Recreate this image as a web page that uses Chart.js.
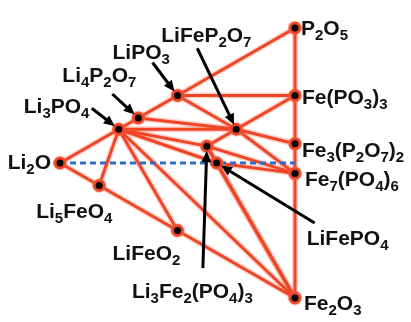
<!DOCTYPE html>
<html>
<head>
<meta charset="utf-8">
<script src="https://cdn.jsdelivr.net/npm/chart.js@4"></script>
<style>
  html, body { margin: 0; padding: 0; background: #fff; }
  #wrap { width: 411px; height: 322px; }
</style>
</head>
<body>
<div id="wrap"><canvas id="myChart"></canvas></div>
<script>
// phases of the Li2O - Fe2O3 - P2O5 diagram, given by cation counts
let phases = ['Li2O', 'Li5FeO4', 'LiFeO2', 'Fe2O3', 'Fe7(PO4)6', 'Fe3(P2O7)2', 'Fe(PO3)3',
    'P2O5', 'LiPO3', 'Li4P2O7', 'Li3PO4', 'LiFeP2O7', 'Li3Fe2(PO4)3', 'LiFePO4']
let liCount = [2, 5, 1, 0, 0, 0, 0, 0, 1, 4, 3, 1, 3, 1]
let feCount = [0, 1, 1, 2, 7, 3, 1, 0, 0, 0, 0, 1, 2, 1]
let pCount  = [0, 0, 0, 0, 6, 4, 3, 2, 1, 2, 1, 2, 3, 1]

// tie lines between stable phases
let tieLines = [
    ['Li2O', 'Li3PO4'], ['Li3PO4', 'Li4P2O7'], ['Li4P2O7', 'LiPO3'], ['LiPO3', 'P2O5'],
    ['P2O5', 'Fe(PO3)3'], ['Fe(PO3)3', 'Fe3(P2O7)2'], ['Fe3(P2O7)2', 'Fe7(PO4)6'], ['Fe7(PO4)6', 'Fe2O3'],
    ['Fe2O3', 'LiFeO2'], ['LiFeO2', 'Li5FeO4'], ['Li5FeO4', 'Li2O'],
    ['Li3PO4', 'Li5FeO4'], ['Li3PO4', 'LiFeO2'], ['Li3PO4', 'Fe2O3'], ['Li3PO4', 'LiFePO4'],
    ['Li3PO4', 'Li3Fe2(PO4)3'], ['Li3PO4', 'LiFeP2O7'], ['Li4P2O7', 'LiFeP2O7'],
    ['LiPO3', 'LiFeP2O7'], ['LiPO3', 'Fe(PO3)3'], ['LiFeP2O7', 'Fe(PO3)3'],
    ['LiFeP2O7', 'Fe3(P2O7)2'], ['LiFeP2O7', 'Fe7(PO4)6'], ['LiFeP2O7', 'Li3Fe2(PO4)3'],
    ['Li3Fe2(PO4)3', 'LiFePO4'], ['Li3Fe2(PO4)3', 'Fe7(PO4)6'], ['Li3Fe2(PO4)3', 'Fe2O3'],
    ['LiFePO4', 'Fe7(PO4)6'], ['LiFePO4', 'Fe2O3']
]

// dashed Li2O -> FePO4 line (Li, Fe, P counts of both ends)
let dashedFrom = [2, 0, 0]
let dashedTo = [0, 1, 1]

// composition -> diagram coordinates (Li corner left, P top right, Fe bottom right)
function project(li, fe, p) {
    let total = li + fe + p
    return { x: (fe + p) / total, y: (p - fe) / total }
}

let coords = {}
phases.forEach((name, i) => {
    coords[name] = project(liCount[i], feCount[i], pCount[i])
})

// label placement, in pixels relative to each point: [dx, dy, align]
let labelPos = {
    'Li2O': [-9, 6, 'right'],
    'Li5FeO4': [-63, 32, 'left'],
    'LiFeO2': [-65, 29, 'left'],
    'Fe2O3': [9, 12, 'left'],
    'Fe7(PO4)6': [10, 13, 'left'],
    'Fe3(P2O7)2': [7, 13, 'left'],
    'Fe(PO3)3': [7, 8, 'left'],
    'P2O5': [6, 7, 'left'],
    'LiPO3': [-65, -37, 'left'],
    'Li4P2O7': [-76, -36, 'left'],
    'Li3PO4': [-95, -16, 'left'],
    'LiFeP2O7': [-75, -87, 'left'],
    'Li3Fe2(PO4)3': [-75, 152, 'left'],
    'LiFePO4': [90, 82, 'left']
}

// arrow tails, in pixels relative to the point they point at
let arrowTail = {
    'Li3PO4': [-27, -21],
    'Li4P2O7': [-26, -24],
    'LiPO3': [-25, -33],
    'LiFeP2O7': [-39, -81],
    'Li3Fe2(PO4)3': [-4, 122],
    'LiFePO4': [98, 60]
}

let red = '#ef4526'
let halo = 'rgba(245, 110, 80, 0.3)'

let datasets = []

tieLines.forEach(pair => {
    // soft glow under each line
    datasets.push({
        data: [coords[pair[0]], coords[pair[1]]],
        showLine: true,
        borderColor: halo,
        borderWidth: 6,
        pointRadius: 0,
        clip: false,
        order: 4
    })
    datasets.push({
        data: [coords[pair[0]], coords[pair[1]]],
        showLine: true,
        borderColor: red,
        borderWidth: 3,
        pointRadius: 0,
        clip: false,
        order: 3
    })
})

datasets.push({
    data: [project(...dashedFrom), project(...dashedTo)],
    showLine: true,
    borderColor: '#2e6cc6',
    borderWidth: 3,
    borderDash: [6, 4],
    pointRadius: 0,
    clip: false,
    order: 2
})

datasets.push({
    data: phases.map(n => coords[n]),
    showLine: false,
    pointRadius: 6.5,
    pointBackgroundColor: red,
    pointBorderColor: halo,
    pointBorderWidth: 2,
    clip: false,
    order: 1
})

datasets.push({
    data: phases.map(n => coords[n]),
    showLine: false,
    pointRadius: 3.5,
    pointBackgroundColor: '#000',
    pointBorderWidth: 0,
    clip: false,
    order: 0
})

// formula text with digits as subscripts
function drawFormula(c, text, x, y, align) {
    let big = 'bold 21px "Liberation Sans", Arial, sans-serif'
    let small = 'bold 15px "Liberation Sans", Arial, sans-serif'
    let parts = text.split(/(\d+)/).filter(s => s.length)
    let width = 0
    parts.forEach(s => {
        c.font = /\d/.test(s) ? small : big
        width += c.measureText(s).width
    })
    let cx = align == 'right' ? x - width : x
    parts.forEach(s => {
        let sub = /\d/.test(s)
        c.font = sub ? small : big
        c.fillText(s, cx, sub ? y + 5 : y)
        cx += c.measureText(s).width
    })
}

function drawArrow(c, x1, y1, x2, y2) {
    let ang = Math.atan2(y2 - y1, x2 - x1)
    let headLen = 11, headW = 5
    c.strokeStyle = '#000'
    c.fillStyle = '#000'
    c.lineWidth = 3
    c.beginPath()
    c.moveTo(x1, y1)
    c.lineTo(x2 - Math.cos(ang) * headLen * 0.8, y2 - Math.sin(ang) * headLen * 0.8)
    c.stroke()
    c.beginPath()
    c.moveTo(x2, y2)
    c.lineTo(x2 - Math.cos(ang) * headLen + Math.sin(ang) * headW, y2 - Math.sin(ang) * headLen - Math.cos(ang) * headW)
    c.lineTo(x2 - Math.cos(ang) * headLen - Math.sin(ang) * headW, y2 - Math.sin(ang) * headLen + Math.cos(ang) * headW)
    c.closePath()
    c.fill()
}

let annotations = {
    id: 'annotations',
    afterDatasetsDraw(chart) {
        let c = chart.ctx
        let sx = chart.scales.x, sy = chart.scales.y
        c.save()
        c.textBaseline = 'alphabetic'
        phases.forEach(name => {
            let px = sx.getPixelForValue(coords[name].x)
            let py = sy.getPixelForValue(coords[name].y)
            let lp = labelPos[name]
            c.fillStyle = '#111'
            drawFormula(c, name, px + lp[0], py + lp[1], lp[2])
            let t = arrowTail[name]
            if (t) {
                let len = Math.hypot(t[0], t[1])
                let gap = 5
                drawArrow(c, px + t[0], py + t[1], px + t[0] / len * gap, py + t[1] / len * gap)
            }
        })
        c.restore()
    }
}

new Chart(document.getElementById('myChart'), {
    type: 'scatter',
    data: { datasets: datasets },
    options: {
        responsive: true,
        maintainAspectRatio: false,
        animation: false,
        layout: { padding: { left: 60, right: 116, top: 28, bottom: 24 } },
        scales: {
            x: { display: false, min: 0, max: 1 },
            y: { display: false, min: -1, max: 1 }
        },
        plugins: {
            legend: { display: false },
            tooltip: { enabled: false }
        }
    },
    plugins: [annotations]
})
</script>
</body>
</html>
